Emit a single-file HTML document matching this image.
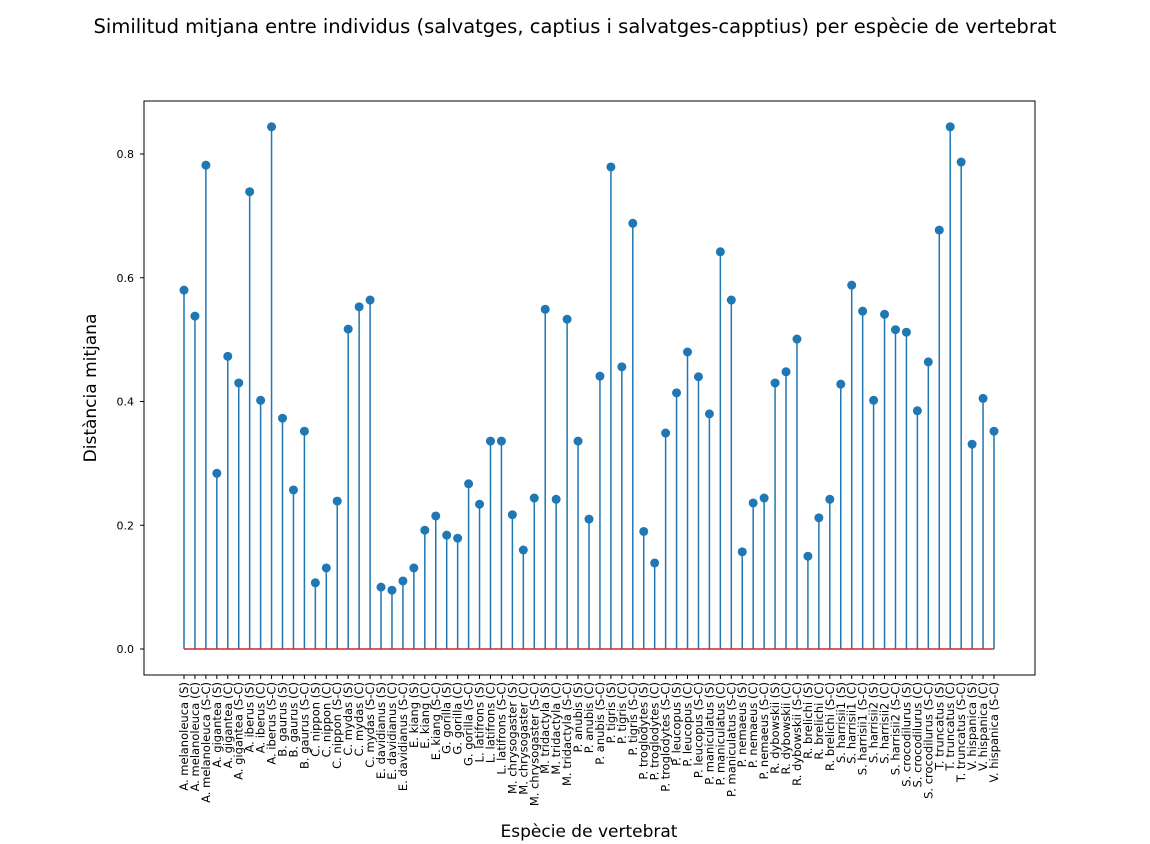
<!DOCTYPE html>
<html><head><meta charset="utf-8"><style>
body{margin:0;background:#fff;font-family:"DejaVu Sans","Liberation Sans",sans-serif;}
svg{display:block}
</style></head><body>
<svg id="chart" width="1150" height="844" xmlns="http://www.w3.org/2000/svg" font-family="DejaVu Sans, Liberation Sans, sans-serif">
<text x="575" y="33" text-anchor="middle" font-size="19.5">Similitud mitjana entre individus (salvatges, captius i salvatges-capptius) per espècie de vertebrat</text>
<text transform="translate(96,388) rotate(-90)" text-anchor="middle" font-size="17">Distància mitjana</text>
<text x="589" y="837" text-anchor="middle" font-size="17">Espècie de vertebrat</text>
<g id="plot"></g>
<rect x="144" y="101" width="891" height="574" fill="none" stroke="#000" stroke-width="1"/>
</svg>
<script>
const species = ["A. melanoleuca","A. gigantea","A. iberus","B. gaurus","C. nippon","C. mydas","E. davidianus","E. kiang","G. gorilla","L. latifrons","M. chrysogaster","M. tridactyla","P. anubis","P. tigris","P. troglodytes","P. leucopus","P. maniculatus","P. nemaeus","R. dybowskii","R. brelichi","S. harrisii1","S. harrisii2","S. crocodilurus","T. truncatus","V. hispanica"];
const groups = ["S","C","S-C"];
const values = [0.58,0.538,0.782,0.284,0.473,0.43,0.739,0.402,0.844,0.373,0.257,0.352,0.107,0.131,0.239,0.517,0.553,0.564,0.1,0.095,0.11,0.131,0.192,0.215,0.184,0.179,0.267,0.234,0.336,0.336,0.217,0.16,0.244,0.549,0.242,0.533,0.336,0.21,0.441,0.779,0.456,0.688,0.19,0.139,0.349,0.414,0.48,0.44,0.38,0.642,0.564,0.157,0.236,0.244,0.43,0.448,0.501,0.15,0.212,0.242,0.428,0.588,0.546,0.402,0.541,0.516,0.512,0.385,0.464,0.677,0.844,0.787,0.331,0.405,0.352];
const yTicks = [0.0,0.2,0.4,0.6,0.8];
const categories = [];
species.forEach(s => groups.forEach(g => categories.push(s + " (" + g + ")")));
const NS = "http://www.w3.org/2000/svg";
const g = document.getElementById("plot");
const x0 = 184, x1 = 994;
const xScale = i => x0 + i * (x1 - x0) / (categories.length - 1);
const yScale = v => 649 - v * 618.75;
function mk(tag, attrs){const e=document.createElementNS(NS,tag);for(const k in attrs)e.setAttribute(k,attrs[k]);g.appendChild(e);return e;}
yTicks.forEach(t => {
  const y = yScale(t);
  const tk = mk("line",{x1:140,x2:144,y1:y,y2:y,stroke:"#000"});
  
  
  const tx = mk("text",{x:134,y:y+4,"text-anchor":"end","font-size":"11"});
  tx.textContent = t.toFixed(1);
  
  
});
categories.forEach((c, i) => {
  const x = xScale(i);
  const tk = mk("line",{x1:x,x2:x,y1:675,y2:679,stroke:"#000"});
  
  
  const tx = mk("text",{transform:`translate(${x+4},682) rotate(-90)`,"text-anchor":"end","font-size":"11.5"});
  tx.textContent = c;
  
  
});
values.forEach((v, i) => {
  const x = xScale(i);
  const st = mk("line",{x1:x,x2:x,y1:yScale(0),y2:yScale(v),stroke:"#1f77b4","stroke-width":"1.5"});
  
  
});
const base = mk("line",{x1:xScale(0),x2:xScale(categories.length-1),y1:yScale(0),y2:yScale(0),stroke:"#d62728","stroke-width":"1.5"});


values.forEach((v, i) => {
  const m = mk("circle",{cx:xScale(i),cy:yScale(v),r:4.5,fill:"#1f77b4"});
  
  
});
</script>
</body></html>
